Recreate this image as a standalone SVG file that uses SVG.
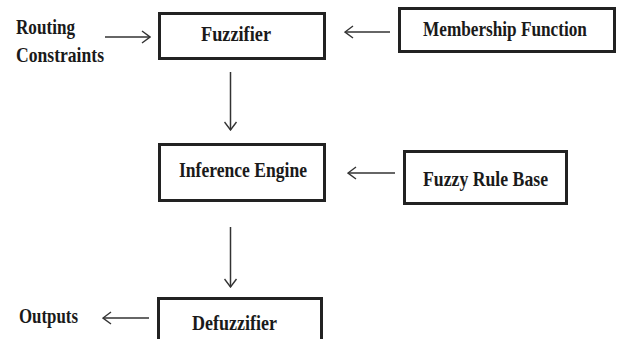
<svg xmlns="http://www.w3.org/2000/svg" width="618" height="339" viewBox="0 0 618 339">
  <style>
    .box { fill: #ffffff; stroke: #222222; stroke-width: 3; }
    .lbl { font-family: "Liberation Serif", "Times New Roman", serif; font-weight: bold; font-size: 21px; fill: #1a1a1a; }
    .wire { stroke: #333333; stroke-width: 1.5; fill: none; marker-end: url(#chev); }
  </style>
  <defs>
    <marker id="chev" markerUnits="userSpaceOnUse" viewBox="0 0 10 14" refX="9" refY="7" markerWidth="10" markerHeight="14" orient="auto">
      <path d="M1,1 L9,7 L1,13" fill="none" stroke="#333333" stroke-width="1.4"/>
    </marker>
  </defs>
  <rect width="618" height="339" fill="#ffffff"/>

  <g id="connectors">
    <line class="wire" x1="105" y1="37" x2="150" y2="37"/>
    <line class="wire" x1="390" y1="32" x2="345" y2="32"/>
    <line class="wire" x1="230.5" y1="72" x2="230.5" y2="130"/>
    <line class="wire" x1="395" y1="173" x2="348" y2="173"/>
    <line class="wire" x1="230.5" y1="227" x2="230.5" y2="287"/>
    <line class="wire" x1="149" y1="318" x2="103" y2="318"/>
  </g>

  <g id="routing-constraints">
    <text class="lbl" x="16" y="34" textLength="59" lengthAdjust="spacingAndGlyphs">Routing</text>
    <text class="lbl" x="16" y="62" textLength="88" lengthAdjust="spacingAndGlyphs">Constraints</text>
  </g>

  <g id="fuzzifier">
    <rect class="box" x="159.5" y="13.5" width="165" height="45"/>
    <text class="lbl" x="201" y="41" textLength="70" lengthAdjust="spacingAndGlyphs">Fuzzifier</text>
  </g>

  <g id="membership-function">
    <rect class="box" x="399.5" y="8.5" width="215" height="43"/>
    <!-- horizontally condensed label -->
    <text class="lbl" transform="translate(423,36) scale(0.82,1)" x="0" y="0">Membership Function</text>
  </g>

  <g id="inference-engine">
    <rect class="box" x="159.5" y="144.5" width="165" height="56"/>
    <text class="lbl" x="179" y="177" textLength="128" lengthAdjust="spacingAndGlyphs">Inference Engine</text>
  </g>

  <g id="fuzzy-rule-base">
    <rect class="box" x="404.5" y="151.5" width="162" height="52"/>
    <text class="lbl" x="423" y="186" textLength="125" lengthAdjust="spacingAndGlyphs">Fuzzy Rule Base</text>
  </g>

  <g id="defuzzifier">
    <rect class="box" x="158.5" y="298.5" width="163" height="50"/>
    <text class="lbl" x="192" y="330" textLength="85" lengthAdjust="spacingAndGlyphs">Defuzzifier</text>
  </g>

  <g id="outputs">
    <text class="lbl" x="19" y="323" textLength="59" lengthAdjust="spacingAndGlyphs">Outputs</text>
  </g>
</svg>
